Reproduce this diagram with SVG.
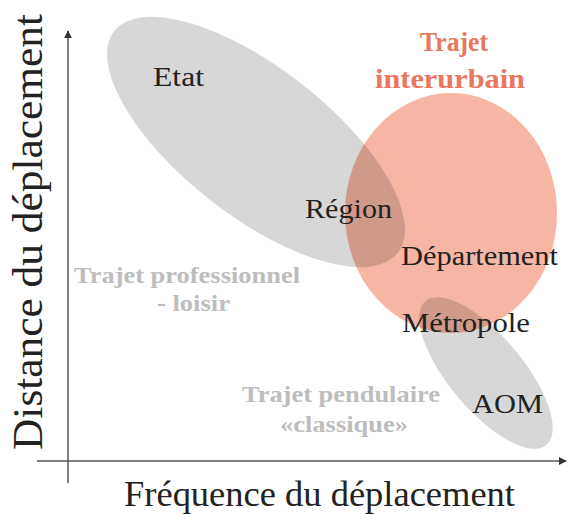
<svg xmlns="http://www.w3.org/2000/svg" width="567" height="515" viewBox="0 0 567 515" font-family="'Liberation Serif', 'DejaVu Serif', serif">
<style>
.node{font-size:27px;fill:#222}
.zone{font-size:24px;font-weight:bold;fill:#bdbdbd}
.title{font-size:27px;font-weight:bold;fill:#ea7660}
.axis-label{fill:#222}
.gray{fill:#000;fill-opacity:0.155}
.axis{stroke:#555;stroke-width:1.5;fill:none}
</style>
<defs>
<marker id="arr" viewBox="0 0 10 10" refX="9" refY="5" markerWidth="8" markerHeight="8" markerUnits="userSpaceOnUse" orient="auto">
<path d="M0,0 L10,5 L0,10 z" fill="#333"/>
</marker>
</defs>
<rect width="567" height="515" fill="#fff"/>
<g id="interurbain-zone">
<ellipse cx="451" cy="213" rx="106" ry="120" fill="#f7b6a3"/>
</g>
<g id="etat-region-zone">
<ellipse class="gray" cx="256" cy="142" rx="180" ry="74" transform="rotate(38 256 142)"/>
</g>
<g id="metropole-aom-zone">
<ellipse class="gray" cx="486" cy="373" rx="94" ry="37" transform="rotate(50 486 373)"/>
</g>
<g id="connectors">
<line class="axis" x1="68" y1="483" x2="68" y2="31" marker-end="url(#arr)"/>
<line class="axis" x1="37" y1="461" x2="566" y2="461" marker-end="url(#arr)"/>
</g>
<g id="axis-y"><text class="axis-label" font-family="'Liberation Serif', serif" font-size="43" transform="translate(42,450) rotate(-90)" textLength="436" lengthAdjust="spacingAndGlyphs">Distance du déplacement</text></g>
<g id="axis-x"><text class="axis-label" font-family="'Liberation Serif', serif" font-size="36" x="124" y="506" textLength="391" lengthAdjust="spacingAndGlyphs">Fréquence du déplacement</text></g>
<g id="etat"><text class="node" x="153" y="86" textLength="51" lengthAdjust="spacingAndGlyphs">Etat</text></g>
<g id="region"><text class="node" x="305" y="218" textLength="87" lengthAdjust="spacingAndGlyphs">Région</text></g>
<g id="departement"><text class="node" x="401" y="265" textLength="157" lengthAdjust="spacingAndGlyphs">Département</text></g>
<g id="metropole"><text class="node" x="402" y="332" textLength="128" lengthAdjust="spacingAndGlyphs">Métropole</text></g>
<g id="aom"><text class="node" x="472" y="413" textLength="71" lengthAdjust="spacingAndGlyphs">AOM</text></g>
<g id="trajet-interurbain">
<text class="title" x="420" y="51" textLength="68" lengthAdjust="spacingAndGlyphs">Trajet</text>
<text class="title" x="375" y="88" textLength="150" lengthAdjust="spacingAndGlyphs">interurbain</text>
</g>
<g id="trajet-professionnel">
<text class="zone" x="74" y="283" textLength="226" lengthAdjust="spacingAndGlyphs">Trajet professionnel</text>
<text class="zone" x="157" y="311" textLength="73" lengthAdjust="spacingAndGlyphs">- loisir</text>
</g>
<g id="trajet-pendulaire">
<text class="zone" x="242" y="402" textLength="198" lengthAdjust="spacingAndGlyphs">Trajet pendulaire</text>
<text class="zone" x="280" y="432" textLength="128" lengthAdjust="spacingAndGlyphs">«classique»</text>
</g>
</svg>
